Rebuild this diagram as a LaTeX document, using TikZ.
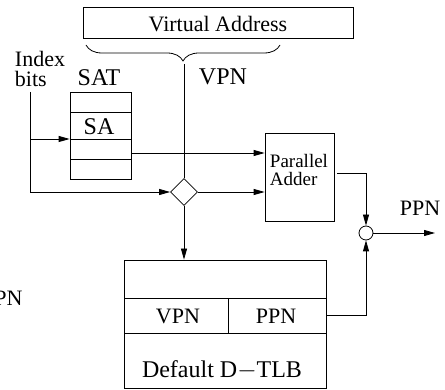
\documentclass[tikz,border=0pt]{standalone}
\usepackage{fontspec}
\setmainfont{Liberation Serif}
\usetikzlibrary{shapes.geometric,arrows.meta,decorations.pathreplacing}
\begin{document}
\begin{tikzpicture}[x=1pt,y=-1pt,
  line width=0.8pt,
  >={Triangle[length=11pt,width=6pt]},
  lbl/.style={font=\fontsize{22}{24}\selectfont, inner sep=0pt},
  big/.style={font=\fontsize{24}{26}\selectfont, inner sep=0pt},
  small/.style={font=\fontsize{19}{20}\selectfont, inner sep=0pt, align=left},
  box/.style={draw, rectangle, inner sep=0pt}]
\useasboundingbox (0,0) rectangle (445,390);

% virtual address and its VPN field
\node[box, minimum width=270pt, minimum height=31pt] (va) at (218,22.5) {};
\node[lbl] (vatext) at (218,24) {Virtual Address};
\draw[decorate, decoration={brace, amplitude=16pt, mirror}] (86,45) -- (280,45);
\coordinate (bt) at (184,64);
\node[big] (vpnlbl) at (223,77) {VPN};

% index bits input
\node[lbl, align=left] (idx) at (40,69) {Index\\[-4pt]bits};
\coordinate (ib) at (30,92);
\coordinate (ibr) at (30,139);

% segment address table
\node[big] (satlbl) at (99,78) {SAT};
\node[box, minimum width=61pt, minimum height=87pt] (sat) at (100.5,135.5) {};
\draw (70,112) -- (131,112) (70,139) -- (131,139) (70,159) -- (131,159);
\node[big] (sa) at (99,127) {SA};

% parallel adder
\node[box, minimum width=69pt, minimum height=88pt] (add) at (299.5,177) {};
\node[small] (addtext) at (299,170) {Parallel\\[-2pt]Adder};

% selector and output merge
\node[draw, diamond, minimum size=27pt, inner sep=0pt, fill=white] (dia) at (184,192) {};
\node[draw, circle, minimum size=14pt, inner sep=0pt] (circ) at (366,233) {};
\node[lbl] (ppn) at (420,208) {PPN};
\node[lbl, anchor=east] (ppnleft) at (23,298) {PPN};

% default D-TLB
\node[box, minimum width=202pt, minimum height=128pt] (tlb) at (225,324) {};
\draw (124,298) -- (326,298) (124,333) -- (326,333) (228,298) -- (228,333);
\node[lbl] (tvpn) at (178,316) {VPN};
\node[lbl] (tppn) at (276,316) {PPN};
\node[big] (tname) at (222,370) {Default D$-$TLB};

% connectors
\draw (bt) -- (dia.north);
\draw[->] (ib) |- (dia.west);
\draw[->] (ibr) -- (sat.west |- ibr);
\draw[->] (sat.east |- 0,153) -- (add.west |- 0,153);
\draw[->] (dia.east) -- (add.west |- dia.east);
\draw[->] (dia.south) -- (tlb.north -| dia.south);
\draw[->] ([xshift=3pt]add.east |- 0,173) -| (circ.north);
\draw[->] (tlb.east |- 0,315) -| (circ.south);
\draw[->] (circ.east) -- (435,233);
\end{tikzpicture}
\end{document}
